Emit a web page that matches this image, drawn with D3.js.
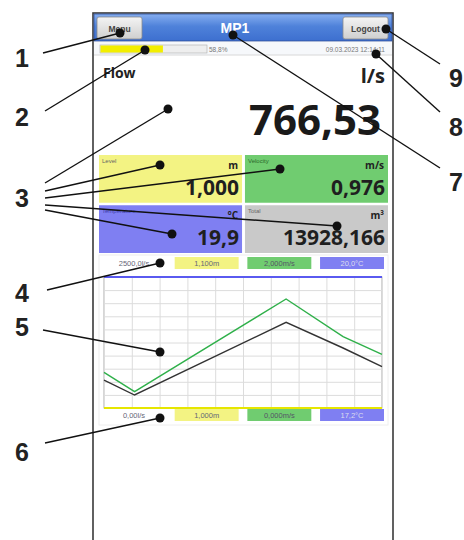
<!DOCTYPE html>
<html>
<head>
<meta charset="utf-8">
<script src="https://cdn.jsdelivr.net/npm/d3@7"></script>
<style>
  html, body { margin: 0; padding: 0; background: #fff; }
  svg { display: block; }
</style>
</head>
<body>
<div id="chart"></div>
<script>
// ── Data ────────────────────────────────────────────────────────────────────
const timeMin = [0, 1.1, 6.55, 8.6, 10];             // x position (grid units)
const flowSeries = [534, 248, 1635, 1145, 788];        // l/s, black line
const velocitySeries = [0.545, 0.249, 1.664, 1.089, 0.82]; // m/s, green line
const levelSeries = [1.0, 1.0, 1.0, 1.0, 1.0];         // m, yellow line
const tempSeries = [20.0, 20.0, 20.0, 20.0, 20.0];     // °C, blue line

const rangeTop = ['2500,0l/s', '1,100m', '2,000m/s', '20,0°C'];
const rangeBottom = ['0,00l/s', '1,000m', '0,000m/s', '17,2°C'];
const domains = { flow: [0, 2500], level: [1.0, 1.1], velocity: [0, 2], temp: [17.2, 20.0] };

const tileNames = ['Level', 'Velocity', 'Temperature', 'Total'];
const tileUnits = ['m', 'm/s', '°C', 'm³'];
const tileValues = ['1,000', '0,976', '19,9', '13928,166'];

const calloutNums = ['1', '2', '3', '4', '5', '6', '7', '8', '9'];

// ── Layout ──────────────────────────────────────────────────────────────────
const W = 464, H = 540;
const FONT = "'Open Sans', 'Noto Sans', sans-serif";
const ARIAL = "'Liberation Sans', Arial, sans-serif";
const COL = { yellow: '#f3f383', green: '#70cc70', blue: '#7f7ff2', gray: '#c9c9c9', white: '#ffffff' };
const tileColors = [COL.yellow, COL.green, COL.blue, COL.gray];
const tileLabelColors = ['#666', '#2c6a2c', '#3d3db0', '#666'];
const boxColors = [COL.white, COL.yellow, COL.green, COL.blue];
const boxTextColors = ['#667', '#667', '#556', '#dde'];

const svg = d3.select('#chart').append('svg').attr('width', W).attr('height', H)
  .attr('viewBox', `0 0 ${W} ${H}`);
svg.append('rect').attr('width', W).attr('height', H).attr('fill', '#fff');
const defs = svg.append('defs');

// ── Phone screen ────────────────────────────────────────────────────────────
const hdr = defs.append('linearGradient').attr('id', 'hdr').attr('x1', 0).attr('x2', 0).attr('y1', 0).attr('y2', 1);
hdr.append('stop').attr('offset', '0%').attr('stop-color', '#86aef0');
hdr.append('stop').attr('offset', '45%').attr('stop-color', '#4f82da');
hdr.append('stop').attr('offset', '100%').attr('stop-color', '#3d6fcf');
const btn = defs.append('linearGradient').attr('id', 'btn').attr('x1', 0).attr('x2', 0).attr('y1', 0).attr('y2', 1);
btn.append('stop').attr('offset', '0%').attr('stop-color', '#f4f4f4');
btn.append('stop').attr('offset', '100%').attr('stop-color', '#cfcfcf');

svg.append('rect').attr('x', 93).attr('y', 13).attr('width', 300).attr('height', 540)
  .attr('fill', '#fff').attr('stroke', '#3a3a3a').attr('stroke-width', 1.6);
svg.append('rect').attr('x', 94).attr('y', 14).attr('width', 298).attr('height', 27)
  .attr('fill', 'url(#hdr)').attr('stroke', '#2f4f99').attr('stroke-width', 0.8);
svg.append('text').attr('x', 235).attr('y', 33).attr('text-anchor', 'middle')
  .attr('font-family', ARIAL).attr('font-weight', 700).attr('font-size', 14).attr('fill', '#fff').text('MP1');

[[97, 'Menu'], [343, 'Logout']].forEach(([x, t]) => {
  svg.append('rect').attr('x', x).attr('y', 17).attr('width', 45).attr('height', 22).attr('rx', 2)
    .attr('fill', 'url(#btn)').attr('stroke', '#8a8a8a').attr('stroke-width', 0.8);
  svg.append('text').attr('x', x + 22.5).attr('y', 31.5).attr('text-anchor', 'middle')
    .attr('font-family', ARIAL).attr('font-weight', 700).attr('font-size', 8.5).attr('fill', '#444').text(t);
});

// progress row
svg.append('rect').attr('x', 94).attr('y', 42).attr('width', 298).attr('height', 13).attr('fill', '#f6f8fb');
svg.append('line').attr('x1', 94).attr('x2', 392).attr('y1', 55).attr('y2', 55).attr('stroke', '#d8d8d8');
const prog = d3.scaleLinear().domain([0, 100]).range([100, 207]);
svg.append('rect').attr('x', 100).attr('y', 45).attr('width', prog(100) - 100).attr('height', 8)
  .attr('fill', '#eee').attr('stroke', '#aaa').attr('stroke-width', 0.6);
svg.append('rect').attr('x', 100.5).attr('y', 45.5).attr('width', prog(58.8) - 100.5).attr('height', 7).attr('fill', '#f2ee00');
svg.append('text').attr('x', 209).attr('y', 52).attr('font-family', ARIAL).attr('font-size', 6.5).attr('fill', '#777').text('58,8%');
svg.append('text').attr('x', 385).attr('y', 52).attr('text-anchor', 'end').attr('font-family', ARIAL)
  .attr('font-size', 6.5).attr('fill', '#777').text('09.03.2023 12:14:11');

// main value
svg.append('text').attr('x', 103).attr('y', 78).attr('font-family', FONT).attr('font-weight', 700)
  .attr('font-size', 14).attr('fill', '#222').text('Flow');
svg.append('text').attr('x', 385).attr('y', 83).attr('text-anchor', 'end').attr('font-family', FONT)
  .attr('font-weight', 700).attr('font-size', 20).attr('fill', '#222').text('l/s');
svg.append('text').attr('x', 381).attr('y', 135).attr('text-anchor', 'end').attr('font-family', FONT)
  .attr('font-weight', 700).attr('font-size', 42).attr('fill', '#1a1a1a').text('766,53');

// tiles
const tileX = d3.scaleBand().domain([0, 1]).range([99, 388]).paddingInner(0.02);
const tileY = d3.scaleBand().domain([0, 1]).range([155, 253]).paddingInner(0.05);
tileNames.forEach((name, i) => {
  const x = tileX(i % 2), y = tileY(Math.floor(i / 2)), w = tileX.bandwidth(), h = tileY.bandwidth();
  const g = svg.append('g').attr('transform', `translate(${x},${y})`);
  g.append('rect').attr('width', w).attr('height', h).attr('fill', tileColors[i]);
  g.append('text').attr('x', 3).attr('y', 8).attr('font-family', ARIAL).attr('font-size', 6)
    .attr('fill', tileLabelColors[i]).text(name);
  g.append('text').attr('x', w - 4).attr('y', 14).attr('text-anchor', 'end').attr('font-family', FONT)
    .attr('font-weight', 700).attr('font-size', 10).attr('fill', '#222').text(tileUnits[i]);
  g.append('text').attr('x', w - 3).attr('y', h - 8).attr('text-anchor', 'end').attr('font-family', FONT)
    .attr('font-weight', 700).attr('font-size', 21).attr('fill', '#1f1f1f').text(tileValues[i]);
});

// ── Trend chart ─────────────────────────────────────────────────────────────
const PL = 104, PR = 382, PT = 277, PB = 408;
const x = d3.scaleLinear().domain([0, 10]).range([PL, PR]);
const yFlow = d3.scaleLinear().domain(domains.flow).range([PB, PT]);
const yVel = d3.scaleLinear().domain(domains.velocity).range([PB, PT]);
const yLvl = d3.scaleLinear().domain(domains.level).range([PB, PT]);
const yTmp = d3.scaleLinear().domain(domains.temp).range([PB, PT]);

svg.append('rect').attr('x', 99).attr('y', 255).attr('width', 289).attr('height', 170)
  .attr('fill', 'none').attr('stroke', '#eee');

const boxX = d3.scaleBand().domain(d3.range(4)).range([102, 384]).paddingInner(0.12);
[[rangeTop, 257], [rangeBottom, 409]].forEach(([labels, y0]) => {
  labels.forEach((t, i) => {
    svg.append('rect').attr('x', boxX(i)).attr('y', y0).attr('width', boxX.bandwidth()).attr('height', 12)
      .attr('fill', boxColors[i]);
    svg.append('text').attr('x', boxX(i) + boxX.bandwidth() / 2).attr('y', y0 + 9)
      .attr('text-anchor', 'middle').attr('font-family', ARIAL).attr('font-size', 7.5)
      .attr('fill', boxTextColors[i]).text(t);
  });
});

const plot = svg.append('g');
plot.append('rect').attr('x', PL).attr('y', PT).attr('width', PR - PL).attr('height', PB - PT)
  .attr('fill', '#fff').attr('stroke', '#999').attr('stroke-width', 0.8);
plot.append('g').attr('transform', `translate(0,${PB})`)
  .call(d3.axisBottom(x).ticks(10).tickSize(-(PB - PT)).tickFormat(''))
  .call(g => g.select('.domain').remove())
  .call(g => g.selectAll('line').attr('stroke', '#dcdcdc'));
plot.append('g').attr('transform', `translate(${PL},0)`)
  .call(d3.axisLeft(d3.scaleLinear().domain([0, 10]).range([PB, PT])).ticks(10).tickSize(-(PR - PL)).tickFormat(''))
  .call(g => g.select('.domain').remove())
  .call(g => g.selectAll('line').attr('stroke', '#dcdcdc'));

const line = (ys, vals) => d3.line().x((d, i) => x(timeMin[i])).y(d => ys(d))(vals);
plot.append('path').attr('d', line(yLvl, levelSeries)).attr('fill', 'none').attr('stroke', '#e6e600').attr('stroke-width', 2);
plot.append('path').attr('d', line(yTmp, tempSeries)).attr('fill', 'none').attr('stroke', '#5a5af0').attr('stroke-width', 2);
plot.append('path').attr('d', line(yVel, velocitySeries)).attr('fill', 'none').attr('stroke', '#2fb04a').attr('stroke-width', 1.4);
plot.append('path').attr('d', line(yFlow, flowSeries)).attr('fill', 'none').attr('stroke', '#333').attr('stroke-width', 1.4);

// ── Callouts ────────────────────────────────────────────────────────────────
const labelPos = {
  '1': [22, 58, 'middle'], '2': [22, 117, 'middle'], '3': [22, 198, 'middle'],
  '4': [22, 293, 'middle'], '5': [22, 327, 'middle'], '6': [22, 452, 'middle'],
  '9': [449, 78, 'start'], '8': [449, 127, 'start'], '7': [449, 182, 'start'],
};
const leaders = [
  ['1', 43, 53, 120, 33], ['2', 45, 111, 145, 50],
  ['3', 45, 183, 168, 109], ['3', 45, 191, 160, 165], ['3', 45, 198, 280, 169],
  ['3', 45, 205, 337, 226], ['3', 45, 210, 172, 234],
  ['4', 47, 290, 160, 263], ['5', 43, 330, 160, 352], ['6', 45, 443, 160, 418],
  ['7', 440, 168, 233, 35], ['8', 440, 112, 376, 54], ['9', 440, 64, 386, 29],
];
const ann = svg.append('g');
leaders.forEach(([, x1, y1, x2, y2]) => {
  ann.append('line').attr('x1', x1).attr('y1', y1).attr('x2', x2).attr('y2', y2)
    .attr('stroke', '#111').attr('stroke-width', 1.4);
  ann.append('circle').attr('cx', x2).attr('cy', y2).attr('r', 4.5).attr('fill', '#111');
});
calloutNums.forEach(n => {
  const [lx, ly, anchor] = labelPos[n];
  ann.append('text').attr('x', lx).attr('y', ly + 9).attr('text-anchor', anchor)
    .attr('font-family', ARIAL).attr('font-weight', 700).attr('font-size', 25).attr('fill', '#222').text(n);
});
</script>
</body>
</html>
